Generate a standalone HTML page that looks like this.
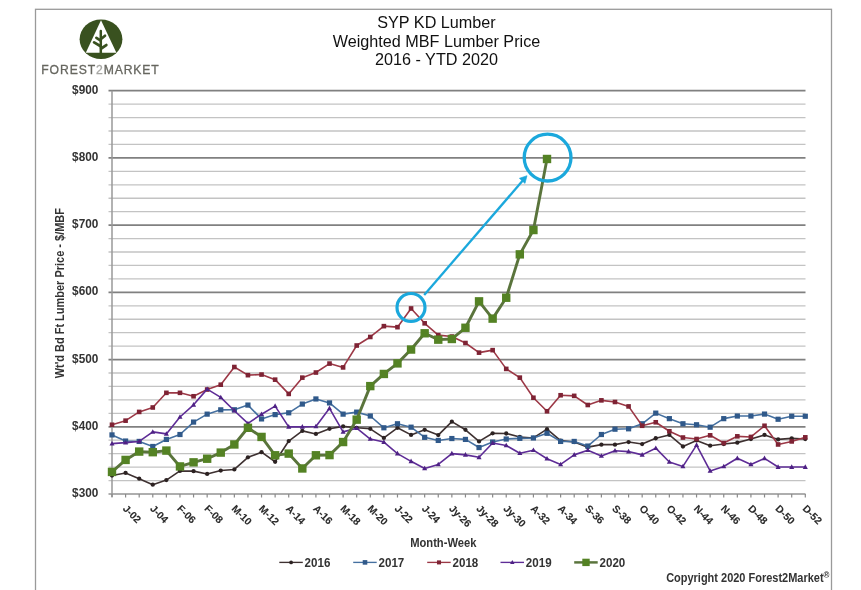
<!DOCTYPE html><html><head><meta charset="utf-8"><style>html,body{margin:0;padding:0;width:861px;height:590px;overflow:hidden;background:#fff;position:relative}svg{will-change:transform;filter:blur(0.35px)}</style></head><body><svg width="861" height="590" viewBox="0 0 861 590" style="position:absolute;left:0;top:0;font-family:'Liberation Sans', sans-serif">
<rect x="35.5" y="9.3" width="796" height="600" fill="none" stroke="#9a9a9a" stroke-width="1.3"/>
<line x1="108.5" y1="494.00" x2="805.5" y2="494.00" stroke="#939393" stroke-width="1.7"/>
<line x1="108.5" y1="480.56" x2="805.5" y2="480.56" stroke="#c3c3c3" stroke-width="1.3"/>
<line x1="108.5" y1="467.11" x2="805.5" y2="467.11" stroke="#c3c3c3" stroke-width="1.3"/>
<line x1="108.5" y1="453.67" x2="805.5" y2="453.67" stroke="#c3c3c3" stroke-width="1.3"/>
<line x1="108.5" y1="440.22" x2="805.5" y2="440.22" stroke="#c3c3c3" stroke-width="1.3"/>
<line x1="108.5" y1="426.78" x2="805.5" y2="426.78" stroke="#808080" stroke-width="1.8"/>
<line x1="108.5" y1="413.34" x2="805.5" y2="413.34" stroke="#c3c3c3" stroke-width="1.3"/>
<line x1="108.5" y1="399.89" x2="805.5" y2="399.89" stroke="#c3c3c3" stroke-width="1.3"/>
<line x1="108.5" y1="386.45" x2="805.5" y2="386.45" stroke="#c3c3c3" stroke-width="1.3"/>
<line x1="108.5" y1="373.00" x2="805.5" y2="373.00" stroke="#c3c3c3" stroke-width="1.3"/>
<line x1="108.5" y1="359.56" x2="805.5" y2="359.56" stroke="#808080" stroke-width="1.8"/>
<line x1="108.5" y1="346.12" x2="805.5" y2="346.12" stroke="#c3c3c3" stroke-width="1.3"/>
<line x1="108.5" y1="332.67" x2="805.5" y2="332.67" stroke="#c3c3c3" stroke-width="1.3"/>
<line x1="108.5" y1="319.23" x2="805.5" y2="319.23" stroke="#c3c3c3" stroke-width="1.3"/>
<line x1="108.5" y1="305.78" x2="805.5" y2="305.78" stroke="#c3c3c3" stroke-width="1.3"/>
<line x1="108.5" y1="292.34" x2="805.5" y2="292.34" stroke="#808080" stroke-width="1.8"/>
<line x1="108.5" y1="278.90" x2="805.5" y2="278.90" stroke="#c3c3c3" stroke-width="1.3"/>
<line x1="108.5" y1="265.45" x2="805.5" y2="265.45" stroke="#c3c3c3" stroke-width="1.3"/>
<line x1="108.5" y1="252.01" x2="805.5" y2="252.01" stroke="#c3c3c3" stroke-width="1.3"/>
<line x1="108.5" y1="238.56" x2="805.5" y2="238.56" stroke="#c3c3c3" stroke-width="1.3"/>
<line x1="108.5" y1="225.12" x2="805.5" y2="225.12" stroke="#808080" stroke-width="1.8"/>
<line x1="108.5" y1="211.68" x2="805.5" y2="211.68" stroke="#c3c3c3" stroke-width="1.3"/>
<line x1="108.5" y1="198.23" x2="805.5" y2="198.23" stroke="#c3c3c3" stroke-width="1.3"/>
<line x1="108.5" y1="184.79" x2="805.5" y2="184.79" stroke="#c3c3c3" stroke-width="1.3"/>
<line x1="108.5" y1="171.34" x2="805.5" y2="171.34" stroke="#c3c3c3" stroke-width="1.3"/>
<line x1="108.5" y1="157.90" x2="805.5" y2="157.90" stroke="#808080" stroke-width="1.8"/>
<line x1="108.5" y1="144.46" x2="805.5" y2="144.46" stroke="#c3c3c3" stroke-width="1.3"/>
<line x1="108.5" y1="131.01" x2="805.5" y2="131.01" stroke="#c3c3c3" stroke-width="1.3"/>
<line x1="108.5" y1="117.57" x2="805.5" y2="117.57" stroke="#c3c3c3" stroke-width="1.3"/>
<line x1="108.5" y1="104.12" x2="805.5" y2="104.12" stroke="#c3c3c3" stroke-width="1.3"/>
<line x1="108.5" y1="90.68" x2="805.5" y2="90.68" stroke="#808080" stroke-width="1.8"/>
<line x1="112.0" y1="90.68" x2="112.0" y2="497.0" stroke="#999" stroke-width="1.5"/>
<line x1="112.00" y1="494.0" x2="112.00" y2="497.5" stroke="#8a8a8a" stroke-width="1.2"/>
<line x1="125.59" y1="494.0" x2="125.59" y2="497.5" stroke="#8a8a8a" stroke-width="1.2"/>
<line x1="139.19" y1="494.0" x2="139.19" y2="497.5" stroke="#8a8a8a" stroke-width="1.2"/>
<line x1="152.78" y1="494.0" x2="152.78" y2="497.5" stroke="#8a8a8a" stroke-width="1.2"/>
<line x1="166.38" y1="494.0" x2="166.38" y2="497.5" stroke="#8a8a8a" stroke-width="1.2"/>
<line x1="179.97" y1="494.0" x2="179.97" y2="497.5" stroke="#8a8a8a" stroke-width="1.2"/>
<line x1="193.56" y1="494.0" x2="193.56" y2="497.5" stroke="#8a8a8a" stroke-width="1.2"/>
<line x1="207.16" y1="494.0" x2="207.16" y2="497.5" stroke="#8a8a8a" stroke-width="1.2"/>
<line x1="220.75" y1="494.0" x2="220.75" y2="497.5" stroke="#8a8a8a" stroke-width="1.2"/>
<line x1="234.35" y1="494.0" x2="234.35" y2="497.5" stroke="#8a8a8a" stroke-width="1.2"/>
<line x1="247.94" y1="494.0" x2="247.94" y2="497.5" stroke="#8a8a8a" stroke-width="1.2"/>
<line x1="261.54" y1="494.0" x2="261.54" y2="497.5" stroke="#8a8a8a" stroke-width="1.2"/>
<line x1="275.13" y1="494.0" x2="275.13" y2="497.5" stroke="#8a8a8a" stroke-width="1.2"/>
<line x1="288.72" y1="494.0" x2="288.72" y2="497.5" stroke="#8a8a8a" stroke-width="1.2"/>
<line x1="302.32" y1="494.0" x2="302.32" y2="497.5" stroke="#8a8a8a" stroke-width="1.2"/>
<line x1="315.91" y1="494.0" x2="315.91" y2="497.5" stroke="#8a8a8a" stroke-width="1.2"/>
<line x1="329.51" y1="494.0" x2="329.51" y2="497.5" stroke="#8a8a8a" stroke-width="1.2"/>
<line x1="343.10" y1="494.0" x2="343.10" y2="497.5" stroke="#8a8a8a" stroke-width="1.2"/>
<line x1="356.69" y1="494.0" x2="356.69" y2="497.5" stroke="#8a8a8a" stroke-width="1.2"/>
<line x1="370.29" y1="494.0" x2="370.29" y2="497.5" stroke="#8a8a8a" stroke-width="1.2"/>
<line x1="383.88" y1="494.0" x2="383.88" y2="497.5" stroke="#8a8a8a" stroke-width="1.2"/>
<line x1="397.48" y1="494.0" x2="397.48" y2="497.5" stroke="#8a8a8a" stroke-width="1.2"/>
<line x1="411.07" y1="494.0" x2="411.07" y2="497.5" stroke="#8a8a8a" stroke-width="1.2"/>
<line x1="424.66" y1="494.0" x2="424.66" y2="497.5" stroke="#8a8a8a" stroke-width="1.2"/>
<line x1="438.26" y1="494.0" x2="438.26" y2="497.5" stroke="#8a8a8a" stroke-width="1.2"/>
<line x1="451.85" y1="494.0" x2="451.85" y2="497.5" stroke="#8a8a8a" stroke-width="1.2"/>
<line x1="465.45" y1="494.0" x2="465.45" y2="497.5" stroke="#8a8a8a" stroke-width="1.2"/>
<line x1="479.04" y1="494.0" x2="479.04" y2="497.5" stroke="#8a8a8a" stroke-width="1.2"/>
<line x1="492.64" y1="494.0" x2="492.64" y2="497.5" stroke="#8a8a8a" stroke-width="1.2"/>
<line x1="506.23" y1="494.0" x2="506.23" y2="497.5" stroke="#8a8a8a" stroke-width="1.2"/>
<line x1="519.82" y1="494.0" x2="519.82" y2="497.5" stroke="#8a8a8a" stroke-width="1.2"/>
<line x1="533.42" y1="494.0" x2="533.42" y2="497.5" stroke="#8a8a8a" stroke-width="1.2"/>
<line x1="547.01" y1="494.0" x2="547.01" y2="497.5" stroke="#8a8a8a" stroke-width="1.2"/>
<line x1="560.61" y1="494.0" x2="560.61" y2="497.5" stroke="#8a8a8a" stroke-width="1.2"/>
<line x1="574.20" y1="494.0" x2="574.20" y2="497.5" stroke="#8a8a8a" stroke-width="1.2"/>
<line x1="587.79" y1="494.0" x2="587.79" y2="497.5" stroke="#8a8a8a" stroke-width="1.2"/>
<line x1="601.39" y1="494.0" x2="601.39" y2="497.5" stroke="#8a8a8a" stroke-width="1.2"/>
<line x1="614.98" y1="494.0" x2="614.98" y2="497.5" stroke="#8a8a8a" stroke-width="1.2"/>
<line x1="628.58" y1="494.0" x2="628.58" y2="497.5" stroke="#8a8a8a" stroke-width="1.2"/>
<line x1="642.17" y1="494.0" x2="642.17" y2="497.5" stroke="#8a8a8a" stroke-width="1.2"/>
<line x1="655.76" y1="494.0" x2="655.76" y2="497.5" stroke="#8a8a8a" stroke-width="1.2"/>
<line x1="669.36" y1="494.0" x2="669.36" y2="497.5" stroke="#8a8a8a" stroke-width="1.2"/>
<line x1="682.95" y1="494.0" x2="682.95" y2="497.5" stroke="#8a8a8a" stroke-width="1.2"/>
<line x1="696.55" y1="494.0" x2="696.55" y2="497.5" stroke="#8a8a8a" stroke-width="1.2"/>
<line x1="710.14" y1="494.0" x2="710.14" y2="497.5" stroke="#8a8a8a" stroke-width="1.2"/>
<line x1="723.74" y1="494.0" x2="723.74" y2="497.5" stroke="#8a8a8a" stroke-width="1.2"/>
<line x1="737.33" y1="494.0" x2="737.33" y2="497.5" stroke="#8a8a8a" stroke-width="1.2"/>
<line x1="750.92" y1="494.0" x2="750.92" y2="497.5" stroke="#8a8a8a" stroke-width="1.2"/>
<line x1="764.52" y1="494.0" x2="764.52" y2="497.5" stroke="#8a8a8a" stroke-width="1.2"/>
<line x1="778.11" y1="494.0" x2="778.11" y2="497.5" stroke="#8a8a8a" stroke-width="1.2"/>
<line x1="791.71" y1="494.0" x2="791.71" y2="497.5" stroke="#8a8a8a" stroke-width="1.2"/>
<line x1="805.30" y1="494.0" x2="805.30" y2="497.5" stroke="#8a8a8a" stroke-width="1.2"/>
<text transform="translate(98.3,497.10) scale(1,1.08)" font-size="11.8" font-weight="bold" fill="#333" text-anchor="end">$300</text>
<text transform="translate(98.3,429.88) scale(1,1.08)" font-size="11.8" font-weight="bold" fill="#333" text-anchor="end">$400</text>
<text transform="translate(98.3,362.66) scale(1,1.08)" font-size="11.8" font-weight="bold" fill="#333" text-anchor="end">$500</text>
<text transform="translate(98.3,295.44) scale(1,1.08)" font-size="11.8" font-weight="bold" fill="#333" text-anchor="end">$600</text>
<text transform="translate(98.3,228.22) scale(1,1.08)" font-size="11.8" font-weight="bold" fill="#333" text-anchor="end">$700</text>
<text transform="translate(98.3,161.00) scale(1,1.08)" font-size="11.8" font-weight="bold" fill="#333" text-anchor="end">$800</text>
<text transform="translate(98.3,93.78) scale(1,1.08)" font-size="11.8" font-weight="bold" fill="#333" text-anchor="end">$900</text>
<text transform="translate(122.19,509.20) rotate(45)" font-size="10.3" font-weight="bold" fill="#2a2a2a" stroke="#2a2a2a" stroke-width="0.1">J-02</text>
<text transform="translate(149.38,509.20) rotate(45)" font-size="10.3" font-weight="bold" fill="#2a2a2a" stroke="#2a2a2a" stroke-width="0.1">J-04</text>
<text transform="translate(176.57,509.20) rotate(45)" font-size="10.3" font-weight="bold" fill="#2a2a2a" stroke="#2a2a2a" stroke-width="0.1">F-06</text>
<text transform="translate(203.76,509.20) rotate(45)" font-size="10.3" font-weight="bold" fill="#2a2a2a" stroke="#2a2a2a" stroke-width="0.1">F-08</text>
<text transform="translate(230.95,509.20) rotate(45)" font-size="10.3" font-weight="bold" fill="#2a2a2a" stroke="#2a2a2a" stroke-width="0.1">M-10</text>
<text transform="translate(258.14,509.20) rotate(45)" font-size="10.3" font-weight="bold" fill="#2a2a2a" stroke="#2a2a2a" stroke-width="0.1">M-12</text>
<text transform="translate(285.32,509.20) rotate(45)" font-size="10.3" font-weight="bold" fill="#2a2a2a" stroke="#2a2a2a" stroke-width="0.1">A-14</text>
<text transform="translate(312.51,509.20) rotate(45)" font-size="10.3" font-weight="bold" fill="#2a2a2a" stroke="#2a2a2a" stroke-width="0.1">A-16</text>
<text transform="translate(339.70,509.20) rotate(45)" font-size="10.3" font-weight="bold" fill="#2a2a2a" stroke="#2a2a2a" stroke-width="0.1">M-18</text>
<text transform="translate(366.89,509.20) rotate(45)" font-size="10.3" font-weight="bold" fill="#2a2a2a" stroke="#2a2a2a" stroke-width="0.1">M-20</text>
<text transform="translate(394.08,509.20) rotate(45)" font-size="10.3" font-weight="bold" fill="#2a2a2a" stroke="#2a2a2a" stroke-width="0.1">J-22</text>
<text transform="translate(421.26,509.20) rotate(45)" font-size="10.3" font-weight="bold" fill="#2a2a2a" stroke="#2a2a2a" stroke-width="0.1">J-24</text>
<text transform="translate(448.45,509.20) rotate(45)" font-size="10.3" font-weight="bold" fill="#2a2a2a" stroke="#2a2a2a" stroke-width="0.1">Jy-26</text>
<text transform="translate(475.64,509.20) rotate(45)" font-size="10.3" font-weight="bold" fill="#2a2a2a" stroke="#2a2a2a" stroke-width="0.1">Jy-28</text>
<text transform="translate(502.83,509.20) rotate(45)" font-size="10.3" font-weight="bold" fill="#2a2a2a" stroke="#2a2a2a" stroke-width="0.1">Jy-30</text>
<text transform="translate(530.02,509.20) rotate(45)" font-size="10.3" font-weight="bold" fill="#2a2a2a" stroke="#2a2a2a" stroke-width="0.1">A-32</text>
<text transform="translate(557.21,509.20) rotate(45)" font-size="10.3" font-weight="bold" fill="#2a2a2a" stroke="#2a2a2a" stroke-width="0.1">A-34</text>
<text transform="translate(584.39,509.20) rotate(45)" font-size="10.3" font-weight="bold" fill="#2a2a2a" stroke="#2a2a2a" stroke-width="0.1">S-36</text>
<text transform="translate(611.58,509.20) rotate(45)" font-size="10.3" font-weight="bold" fill="#2a2a2a" stroke="#2a2a2a" stroke-width="0.1">S-38</text>
<text transform="translate(638.77,509.20) rotate(45)" font-size="10.3" font-weight="bold" fill="#2a2a2a" stroke="#2a2a2a" stroke-width="0.1">O-40</text>
<text transform="translate(665.96,509.20) rotate(45)" font-size="10.3" font-weight="bold" fill="#2a2a2a" stroke="#2a2a2a" stroke-width="0.1">O-42</text>
<text transform="translate(693.15,509.20) rotate(45)" font-size="10.3" font-weight="bold" fill="#2a2a2a" stroke="#2a2a2a" stroke-width="0.1">N-44</text>
<text transform="translate(720.34,509.20) rotate(45)" font-size="10.3" font-weight="bold" fill="#2a2a2a" stroke="#2a2a2a" stroke-width="0.1">N-46</text>
<text transform="translate(747.52,509.20) rotate(45)" font-size="10.3" font-weight="bold" fill="#2a2a2a" stroke="#2a2a2a" stroke-width="0.1">D-48</text>
<text transform="translate(774.71,509.20) rotate(45)" font-size="10.3" font-weight="bold" fill="#2a2a2a" stroke="#2a2a2a" stroke-width="0.1">D-50</text>
<text transform="translate(801.90,509.20) rotate(45)" font-size="10.3" font-weight="bold" fill="#2a2a2a" stroke="#2a2a2a" stroke-width="0.1">D-52</text>
<text transform="translate(436.5,27.9) scale(1,1.05)" font-size="16.2" fill="#111" text-anchor="middle">SYP KD Lumber</text>
<text transform="translate(436.5,46.8) scale(1,1.05)" font-size="16.2" fill="#111" text-anchor="middle">Weighted MBF Lumber Price</text>
<text transform="translate(436.5,65.1) scale(1,1.05)" font-size="16.2" fill="#111" text-anchor="middle">2016 - YTD 2020</text>
<text transform="translate(64.2,293.2) rotate(-90) scale(1,1.12)" font-size="11" font-weight="bold" fill="#333" text-anchor="middle">Wt'd Bd Ft Lumber Price - $/MBF</text>
<text transform="translate(443.3,547.2) scale(1,1.18)" font-size="11.2" font-weight="bold" fill="#333" text-anchor="middle">Month-Week</text>
<text transform="translate(829.5,582.3) scale(1,1.13)" font-size="11" font-weight="bold" fill="#333" text-anchor="end">Copyright 2020 Forest2Market<tspan font-size="8" dy="-3.6">®</tspan></text>
<polyline points="112.00,475.58 125.59,472.96 139.19,478.67 152.78,484.72 166.38,480.09 179.97,470.94 193.56,471.15 207.16,473.97 220.75,470.54 234.35,469.46 247.94,457.30 261.54,452.19 275.13,461.73 288.72,441.03 302.32,430.88 315.91,433.91 329.51,428.80 343.10,426.38 356.69,427.79 370.29,428.80 383.88,437.94 397.48,427.79 411.07,434.91 424.66,429.80 438.26,435.12 451.85,421.67 465.45,429.80 479.04,441.43 492.64,433.30 506.23,433.50 519.82,436.93 533.42,437.94 547.01,429.20 560.61,440.63 574.20,442.04 587.79,447.15 601.39,444.66 614.98,444.66 628.58,442.04 642.17,444.06 655.76,438.27 669.36,434.91 682.95,446.48 696.55,440.43 710.14,445.67 723.74,444.06 737.33,442.64 750.92,439.01 764.52,434.91 778.11,439.42 791.71,438.34 805.30,439.01" fill="none" stroke="#3e3131" stroke-width="1.6" stroke-linejoin="round"/>
<circle cx="112.00" cy="475.58" r="2.15" fill="#2c2222"/>
<circle cx="125.59" cy="472.96" r="2.15" fill="#2c2222"/>
<circle cx="139.19" cy="478.67" r="2.15" fill="#2c2222"/>
<circle cx="152.78" cy="484.72" r="2.15" fill="#2c2222"/>
<circle cx="166.38" cy="480.09" r="2.15" fill="#2c2222"/>
<circle cx="179.97" cy="470.94" r="2.15" fill="#2c2222"/>
<circle cx="193.56" cy="471.15" r="2.15" fill="#2c2222"/>
<circle cx="207.16" cy="473.97" r="2.15" fill="#2c2222"/>
<circle cx="220.75" cy="470.54" r="2.15" fill="#2c2222"/>
<circle cx="234.35" cy="469.46" r="2.15" fill="#2c2222"/>
<circle cx="247.94" cy="457.30" r="2.15" fill="#2c2222"/>
<circle cx="261.54" cy="452.19" r="2.15" fill="#2c2222"/>
<circle cx="275.13" cy="461.73" r="2.15" fill="#2c2222"/>
<circle cx="288.72" cy="441.03" r="2.15" fill="#2c2222"/>
<circle cx="302.32" cy="430.88" r="2.15" fill="#2c2222"/>
<circle cx="315.91" cy="433.91" r="2.15" fill="#2c2222"/>
<circle cx="329.51" cy="428.80" r="2.15" fill="#2c2222"/>
<circle cx="343.10" cy="426.38" r="2.15" fill="#2c2222"/>
<circle cx="356.69" cy="427.79" r="2.15" fill="#2c2222"/>
<circle cx="370.29" cy="428.80" r="2.15" fill="#2c2222"/>
<circle cx="383.88" cy="437.94" r="2.15" fill="#2c2222"/>
<circle cx="397.48" cy="427.79" r="2.15" fill="#2c2222"/>
<circle cx="411.07" cy="434.91" r="2.15" fill="#2c2222"/>
<circle cx="424.66" cy="429.80" r="2.15" fill="#2c2222"/>
<circle cx="438.26" cy="435.12" r="2.15" fill="#2c2222"/>
<circle cx="451.85" cy="421.67" r="2.15" fill="#2c2222"/>
<circle cx="465.45" cy="429.80" r="2.15" fill="#2c2222"/>
<circle cx="479.04" cy="441.43" r="2.15" fill="#2c2222"/>
<circle cx="492.64" cy="433.30" r="2.15" fill="#2c2222"/>
<circle cx="506.23" cy="433.50" r="2.15" fill="#2c2222"/>
<circle cx="519.82" cy="436.93" r="2.15" fill="#2c2222"/>
<circle cx="533.42" cy="437.94" r="2.15" fill="#2c2222"/>
<circle cx="547.01" cy="429.20" r="2.15" fill="#2c2222"/>
<circle cx="560.61" cy="440.63" r="2.15" fill="#2c2222"/>
<circle cx="574.20" cy="442.04" r="2.15" fill="#2c2222"/>
<circle cx="587.79" cy="447.15" r="2.15" fill="#2c2222"/>
<circle cx="601.39" cy="444.66" r="2.15" fill="#2c2222"/>
<circle cx="614.98" cy="444.66" r="2.15" fill="#2c2222"/>
<circle cx="628.58" cy="442.04" r="2.15" fill="#2c2222"/>
<circle cx="642.17" cy="444.06" r="2.15" fill="#2c2222"/>
<circle cx="655.76" cy="438.27" r="2.15" fill="#2c2222"/>
<circle cx="669.36" cy="434.91" r="2.15" fill="#2c2222"/>
<circle cx="682.95" cy="446.48" r="2.15" fill="#2c2222"/>
<circle cx="696.55" cy="440.43" r="2.15" fill="#2c2222"/>
<circle cx="710.14" cy="445.67" r="2.15" fill="#2c2222"/>
<circle cx="723.74" cy="444.06" r="2.15" fill="#2c2222"/>
<circle cx="737.33" cy="442.64" r="2.15" fill="#2c2222"/>
<circle cx="750.92" cy="439.01" r="2.15" fill="#2c2222"/>
<circle cx="764.52" cy="434.91" r="2.15" fill="#2c2222"/>
<circle cx="778.11" cy="439.42" r="2.15" fill="#2c2222"/>
<circle cx="791.71" cy="438.34" r="2.15" fill="#2c2222"/>
<circle cx="805.30" cy="439.01" r="2.15" fill="#2c2222"/>
<polyline points="112.00,434.91 125.59,441.03 139.19,441.43 152.78,446.48 166.38,439.42 179.97,434.51 193.56,422.07 207.16,414.14 220.75,409.84 234.35,409.77 247.94,405.07 261.54,418.92 275.13,414.61 288.72,412.80 302.32,404.06 315.91,398.95 329.51,402.92 343.10,414.14 356.69,412.13 370.29,416.02 383.88,427.79 397.48,423.76 411.07,427.18 424.66,437.33 438.26,440.43 451.85,438.54 465.45,439.42 479.04,447.55 492.64,442.04 506.23,439.01 519.82,438.34 533.42,437.94 547.01,433.30 560.61,441.43 574.20,441.43 587.79,446.07 601.39,434.51 614.98,429.20 628.58,428.80 642.17,423.76 655.76,413.13 669.36,418.65 682.95,423.76 696.55,424.76 710.14,427.18 723.74,418.65 737.33,416.02 750.92,416.02 764.52,414.08 778.11,419.25 791.71,416.23 805.30,416.23" fill="none" stroke="#4570a0" stroke-width="1.6" stroke-linejoin="round"/>
<rect x="109.40" y="432.31" width="5.2" height="5.2" fill="#30598a"/>
<rect x="122.99" y="438.43" width="5.2" height="5.2" fill="#30598a"/>
<rect x="136.59" y="438.83" width="5.2" height="5.2" fill="#30598a"/>
<rect x="150.18" y="443.88" width="5.2" height="5.2" fill="#30598a"/>
<rect x="163.78" y="436.82" width="5.2" height="5.2" fill="#30598a"/>
<rect x="177.37" y="431.91" width="5.2" height="5.2" fill="#30598a"/>
<rect x="190.96" y="419.47" width="5.2" height="5.2" fill="#30598a"/>
<rect x="204.56" y="411.54" width="5.2" height="5.2" fill="#30598a"/>
<rect x="218.15" y="407.24" width="5.2" height="5.2" fill="#30598a"/>
<rect x="231.75" y="407.17" width="5.2" height="5.2" fill="#30598a"/>
<rect x="245.34" y="402.47" width="5.2" height="5.2" fill="#30598a"/>
<rect x="258.94" y="416.32" width="5.2" height="5.2" fill="#30598a"/>
<rect x="272.53" y="412.01" width="5.2" height="5.2" fill="#30598a"/>
<rect x="286.12" y="410.20" width="5.2" height="5.2" fill="#30598a"/>
<rect x="299.72" y="401.46" width="5.2" height="5.2" fill="#30598a"/>
<rect x="313.31" y="396.35" width="5.2" height="5.2" fill="#30598a"/>
<rect x="326.91" y="400.32" width="5.2" height="5.2" fill="#30598a"/>
<rect x="340.50" y="411.54" width="5.2" height="5.2" fill="#30598a"/>
<rect x="354.09" y="409.53" width="5.2" height="5.2" fill="#30598a"/>
<rect x="367.69" y="413.42" width="5.2" height="5.2" fill="#30598a"/>
<rect x="381.28" y="425.19" width="5.2" height="5.2" fill="#30598a"/>
<rect x="394.88" y="421.16" width="5.2" height="5.2" fill="#30598a"/>
<rect x="408.47" y="424.58" width="5.2" height="5.2" fill="#30598a"/>
<rect x="422.06" y="434.73" width="5.2" height="5.2" fill="#30598a"/>
<rect x="435.66" y="437.83" width="5.2" height="5.2" fill="#30598a"/>
<rect x="449.25" y="435.94" width="5.2" height="5.2" fill="#30598a"/>
<rect x="462.85" y="436.82" width="5.2" height="5.2" fill="#30598a"/>
<rect x="476.44" y="444.95" width="5.2" height="5.2" fill="#30598a"/>
<rect x="490.04" y="439.44" width="5.2" height="5.2" fill="#30598a"/>
<rect x="503.63" y="436.41" width="5.2" height="5.2" fill="#30598a"/>
<rect x="517.22" y="435.74" width="5.2" height="5.2" fill="#30598a"/>
<rect x="530.82" y="435.34" width="5.2" height="5.2" fill="#30598a"/>
<rect x="544.41" y="430.70" width="5.2" height="5.2" fill="#30598a"/>
<rect x="558.01" y="438.83" width="5.2" height="5.2" fill="#30598a"/>
<rect x="571.60" y="438.83" width="5.2" height="5.2" fill="#30598a"/>
<rect x="585.19" y="443.47" width="5.2" height="5.2" fill="#30598a"/>
<rect x="598.79" y="431.91" width="5.2" height="5.2" fill="#30598a"/>
<rect x="612.38" y="426.60" width="5.2" height="5.2" fill="#30598a"/>
<rect x="625.98" y="426.20" width="5.2" height="5.2" fill="#30598a"/>
<rect x="639.57" y="421.16" width="5.2" height="5.2" fill="#30598a"/>
<rect x="653.16" y="410.53" width="5.2" height="5.2" fill="#30598a"/>
<rect x="666.76" y="416.05" width="5.2" height="5.2" fill="#30598a"/>
<rect x="680.35" y="421.16" width="5.2" height="5.2" fill="#30598a"/>
<rect x="693.95" y="422.16" width="5.2" height="5.2" fill="#30598a"/>
<rect x="707.54" y="424.58" width="5.2" height="5.2" fill="#30598a"/>
<rect x="721.14" y="416.05" width="5.2" height="5.2" fill="#30598a"/>
<rect x="734.73" y="413.42" width="5.2" height="5.2" fill="#30598a"/>
<rect x="748.32" y="413.42" width="5.2" height="5.2" fill="#30598a"/>
<rect x="761.92" y="411.48" width="5.2" height="5.2" fill="#30598a"/>
<rect x="775.51" y="416.65" width="5.2" height="5.2" fill="#30598a"/>
<rect x="789.11" y="413.63" width="5.2" height="5.2" fill="#30598a"/>
<rect x="802.70" y="413.63" width="5.2" height="5.2" fill="#30598a"/>
<polyline points="112.00,424.76 125.59,420.66 139.19,411.92 152.78,407.49 166.38,392.83 179.97,392.83 193.56,396.26 207.16,389.54 220.75,384.70 234.35,367.02 247.94,375.16 261.54,374.55 275.13,379.66 288.72,393.91 302.32,377.64 315.91,372.53 329.51,363.59 343.10,367.42 356.69,345.51 370.29,336.97 383.88,326.15 397.48,327.16 411.07,308.47 424.66,323.33 438.26,335.09 451.85,336.57 465.45,343.02 479.04,352.64 492.64,350.15 506.23,368.90 519.82,377.64 533.42,397.74 547.01,411.25 560.61,395.25 574.20,395.86 587.79,405.00 601.39,400.36 614.98,401.98 628.58,406.41 642.17,425.77 655.76,422.28 669.36,431.28 682.95,437.54 696.55,439.01 710.14,435.32 723.74,443.05 737.33,436.33 750.92,436.93 764.52,425.77 778.11,444.46 791.71,441.43 805.30,437.33" fill="none" stroke="#9c3846" stroke-width="1.6" stroke-linejoin="round"/>
<rect x="109.70" y="422.46" width="4.6" height="4.6" fill="#7e2334"/>
<rect x="123.29" y="418.36" width="4.6" height="4.6" fill="#7e2334"/>
<rect x="136.89" y="409.62" width="4.6" height="4.6" fill="#7e2334"/>
<rect x="150.48" y="405.19" width="4.6" height="4.6" fill="#7e2334"/>
<rect x="164.08" y="390.53" width="4.6" height="4.6" fill="#7e2334"/>
<rect x="177.67" y="390.53" width="4.6" height="4.6" fill="#7e2334"/>
<rect x="191.26" y="393.96" width="4.6" height="4.6" fill="#7e2334"/>
<rect x="204.86" y="387.24" width="4.6" height="4.6" fill="#7e2334"/>
<rect x="218.45" y="382.40" width="4.6" height="4.6" fill="#7e2334"/>
<rect x="232.05" y="364.72" width="4.6" height="4.6" fill="#7e2334"/>
<rect x="245.64" y="372.86" width="4.6" height="4.6" fill="#7e2334"/>
<rect x="259.24" y="372.25" width="4.6" height="4.6" fill="#7e2334"/>
<rect x="272.83" y="377.36" width="4.6" height="4.6" fill="#7e2334"/>
<rect x="286.42" y="391.61" width="4.6" height="4.6" fill="#7e2334"/>
<rect x="300.02" y="375.34" width="4.6" height="4.6" fill="#7e2334"/>
<rect x="313.61" y="370.23" width="4.6" height="4.6" fill="#7e2334"/>
<rect x="327.21" y="361.29" width="4.6" height="4.6" fill="#7e2334"/>
<rect x="340.80" y="365.12" width="4.6" height="4.6" fill="#7e2334"/>
<rect x="354.39" y="343.21" width="4.6" height="4.6" fill="#7e2334"/>
<rect x="367.99" y="334.67" width="4.6" height="4.6" fill="#7e2334"/>
<rect x="381.58" y="323.85" width="4.6" height="4.6" fill="#7e2334"/>
<rect x="395.18" y="324.86" width="4.6" height="4.6" fill="#7e2334"/>
<rect x="408.77" y="306.17" width="4.6" height="4.6" fill="#7e2334"/>
<rect x="422.36" y="321.03" width="4.6" height="4.6" fill="#7e2334"/>
<rect x="435.96" y="332.79" width="4.6" height="4.6" fill="#7e2334"/>
<rect x="449.55" y="334.27" width="4.6" height="4.6" fill="#7e2334"/>
<rect x="463.15" y="340.72" width="4.6" height="4.6" fill="#7e2334"/>
<rect x="476.74" y="350.34" width="4.6" height="4.6" fill="#7e2334"/>
<rect x="490.34" y="347.85" width="4.6" height="4.6" fill="#7e2334"/>
<rect x="503.93" y="366.60" width="4.6" height="4.6" fill="#7e2334"/>
<rect x="517.52" y="375.34" width="4.6" height="4.6" fill="#7e2334"/>
<rect x="531.12" y="395.44" width="4.6" height="4.6" fill="#7e2334"/>
<rect x="544.71" y="408.95" width="4.6" height="4.6" fill="#7e2334"/>
<rect x="558.31" y="392.95" width="4.6" height="4.6" fill="#7e2334"/>
<rect x="571.90" y="393.56" width="4.6" height="4.6" fill="#7e2334"/>
<rect x="585.49" y="402.70" width="4.6" height="4.6" fill="#7e2334"/>
<rect x="599.09" y="398.06" width="4.6" height="4.6" fill="#7e2334"/>
<rect x="612.68" y="399.68" width="4.6" height="4.6" fill="#7e2334"/>
<rect x="626.28" y="404.11" width="4.6" height="4.6" fill="#7e2334"/>
<rect x="639.87" y="423.47" width="4.6" height="4.6" fill="#7e2334"/>
<rect x="653.46" y="419.98" width="4.6" height="4.6" fill="#7e2334"/>
<rect x="667.06" y="428.98" width="4.6" height="4.6" fill="#7e2334"/>
<rect x="680.65" y="435.24" width="4.6" height="4.6" fill="#7e2334"/>
<rect x="694.25" y="436.71" width="4.6" height="4.6" fill="#7e2334"/>
<rect x="707.84" y="433.02" width="4.6" height="4.6" fill="#7e2334"/>
<rect x="721.44" y="440.75" width="4.6" height="4.6" fill="#7e2334"/>
<rect x="735.03" y="434.03" width="4.6" height="4.6" fill="#7e2334"/>
<rect x="748.62" y="434.63" width="4.6" height="4.6" fill="#7e2334"/>
<rect x="762.22" y="423.47" width="4.6" height="4.6" fill="#7e2334"/>
<rect x="775.81" y="442.16" width="4.6" height="4.6" fill="#7e2334"/>
<rect x="789.41" y="439.13" width="4.6" height="4.6" fill="#7e2334"/>
<rect x="803.00" y="435.03" width="4.6" height="4.6" fill="#7e2334"/>
<polyline points="112.00,443.65 125.59,442.64 139.19,441.43 152.78,431.89 166.38,433.91 179.97,417.03 193.56,404.80 207.16,389.14 220.75,397.40 234.35,410.78 247.94,423.42 261.54,414.21 275.13,406.08 288.72,426.85 302.32,426.85 315.91,426.44 329.51,408.29 343.10,431.89 356.69,428.19 370.29,439.01 383.88,442.04 397.48,453.60 411.07,461.33 424.66,468.46 438.26,464.42 451.85,453.60 465.45,454.88 479.04,457.30 492.64,443.05 506.23,445.47 519.82,453.20 533.42,450.17 547.01,458.71 560.61,464.42 574.20,454.88 587.79,450.17 601.39,455.89 614.98,450.78 628.58,451.58 642.17,454.88 655.76,448.16 669.36,461.94 682.95,466.44 696.55,445.06 710.14,470.94 723.74,466.44 737.33,458.31 750.92,464.42 764.52,458.31 778.11,467.04 791.71,467.04 805.30,467.04" fill="none" stroke="#5e2c96" stroke-width="1.6" stroke-linejoin="round"/>
<path d="M112.00,440.89 L114.53,445.49 L109.47,445.49Z" fill="#4e2184"/>
<path d="M125.59,439.88 L128.12,444.48 L123.06,444.48Z" fill="#4e2184"/>
<path d="M139.19,438.67 L141.72,443.27 L136.66,443.27Z" fill="#4e2184"/>
<path d="M152.78,429.13 L155.31,433.73 L150.25,433.73Z" fill="#4e2184"/>
<path d="M166.38,431.15 L168.91,435.75 L163.85,435.75Z" fill="#4e2184"/>
<path d="M179.97,414.27 L182.50,418.87 L177.44,418.87Z" fill="#4e2184"/>
<path d="M193.56,402.04 L196.09,406.64 L191.03,406.64Z" fill="#4e2184"/>
<path d="M207.16,386.38 L209.69,390.98 L204.63,390.98Z" fill="#4e2184"/>
<path d="M220.75,394.64 L223.28,399.24 L218.22,399.24Z" fill="#4e2184"/>
<path d="M234.35,408.02 L236.88,412.62 L231.82,412.62Z" fill="#4e2184"/>
<path d="M247.94,420.66 L250.47,425.26 L245.41,425.26Z" fill="#4e2184"/>
<path d="M261.54,411.45 L264.07,416.05 L259.01,416.05Z" fill="#4e2184"/>
<path d="M275.13,403.32 L277.66,407.92 L272.60,407.92Z" fill="#4e2184"/>
<path d="M288.72,424.09 L291.25,428.69 L286.19,428.69Z" fill="#4e2184"/>
<path d="M302.32,424.09 L304.85,428.69 L299.79,428.69Z" fill="#4e2184"/>
<path d="M315.91,423.68 L318.44,428.28 L313.38,428.28Z" fill="#4e2184"/>
<path d="M329.51,405.53 L332.04,410.13 L326.98,410.13Z" fill="#4e2184"/>
<path d="M343.10,429.13 L345.63,433.73 L340.57,433.73Z" fill="#4e2184"/>
<path d="M356.69,425.43 L359.22,430.03 L354.16,430.03Z" fill="#4e2184"/>
<path d="M370.29,436.25 L372.82,440.85 L367.76,440.85Z" fill="#4e2184"/>
<path d="M383.88,439.28 L386.41,443.88 L381.35,443.88Z" fill="#4e2184"/>
<path d="M397.48,450.84 L400.01,455.44 L394.95,455.44Z" fill="#4e2184"/>
<path d="M411.07,458.57 L413.60,463.17 L408.54,463.17Z" fill="#4e2184"/>
<path d="M424.66,465.70 L427.19,470.30 L422.13,470.30Z" fill="#4e2184"/>
<path d="M438.26,461.66 L440.79,466.26 L435.73,466.26Z" fill="#4e2184"/>
<path d="M451.85,450.84 L454.38,455.44 L449.32,455.44Z" fill="#4e2184"/>
<path d="M465.45,452.12 L467.98,456.72 L462.92,456.72Z" fill="#4e2184"/>
<path d="M479.04,454.54 L481.57,459.14 L476.51,459.14Z" fill="#4e2184"/>
<path d="M492.64,440.29 L495.17,444.89 L490.11,444.89Z" fill="#4e2184"/>
<path d="M506.23,442.71 L508.76,447.31 L503.70,447.31Z" fill="#4e2184"/>
<path d="M519.82,450.44 L522.35,455.04 L517.29,455.04Z" fill="#4e2184"/>
<path d="M533.42,447.41 L535.95,452.01 L530.89,452.01Z" fill="#4e2184"/>
<path d="M547.01,455.95 L549.54,460.55 L544.48,460.55Z" fill="#4e2184"/>
<path d="M560.61,461.66 L563.14,466.26 L558.08,466.26Z" fill="#4e2184"/>
<path d="M574.20,452.12 L576.73,456.72 L571.67,456.72Z" fill="#4e2184"/>
<path d="M587.79,447.41 L590.32,452.01 L585.26,452.01Z" fill="#4e2184"/>
<path d="M601.39,453.13 L603.92,457.73 L598.86,457.73Z" fill="#4e2184"/>
<path d="M614.98,448.02 L617.51,452.62 L612.45,452.62Z" fill="#4e2184"/>
<path d="M628.58,448.82 L631.11,453.42 L626.05,453.42Z" fill="#4e2184"/>
<path d="M642.17,452.12 L644.70,456.72 L639.64,456.72Z" fill="#4e2184"/>
<path d="M655.76,445.40 L658.29,450.00 L653.23,450.00Z" fill="#4e2184"/>
<path d="M669.36,459.18 L671.89,463.78 L666.83,463.78Z" fill="#4e2184"/>
<path d="M682.95,463.68 L685.48,468.28 L680.42,468.28Z" fill="#4e2184"/>
<path d="M696.55,442.30 L699.08,446.90 L694.02,446.90Z" fill="#4e2184"/>
<path d="M710.14,468.18 L712.67,472.78 L707.61,472.78Z" fill="#4e2184"/>
<path d="M723.74,463.68 L726.27,468.28 L721.21,468.28Z" fill="#4e2184"/>
<path d="M737.33,455.55 L739.86,460.15 L734.80,460.15Z" fill="#4e2184"/>
<path d="M750.92,461.66 L753.45,466.26 L748.39,466.26Z" fill="#4e2184"/>
<path d="M764.52,455.55 L767.05,460.15 L761.99,460.15Z" fill="#4e2184"/>
<path d="M778.11,464.28 L780.64,468.88 L775.58,468.88Z" fill="#4e2184"/>
<path d="M791.71,464.28 L794.24,468.88 L789.18,468.88Z" fill="#4e2184"/>
<path d="M805.30,464.28 L807.83,468.88 L802.77,468.88Z" fill="#4e2184"/>
<polyline points="112.00,471.95 125.59,459.92 139.19,451.58 152.78,452.19 166.38,450.58 179.97,466.44 193.56,462.34 207.16,458.71 220.75,452.59 234.35,444.46 247.94,427.79 261.54,436.93 275.13,455.28 288.72,453.60 302.32,468.46 315.91,455.28 329.51,455.08 343.10,442.04 356.69,419.65 370.29,386.11 383.88,373.95 397.48,363.39 411.07,349.54 424.66,333.28 438.26,339.66 451.85,338.99 465.45,327.76 479.04,301.35 492.64,318.62 506.23,297.72 519.82,254.36 533.42,230.03 547.01,158.98" fill="none" stroke="#5a743c" stroke-width="2.9" stroke-linejoin="round"/>
<rect x="107.80" y="467.75" width="8.4" height="8.4" fill="#548224"/>
<rect x="121.39" y="455.72" width="8.4" height="8.4" fill="#548224"/>
<rect x="134.99" y="447.38" width="8.4" height="8.4" fill="#548224"/>
<rect x="148.58" y="447.99" width="8.4" height="8.4" fill="#548224"/>
<rect x="162.18" y="446.38" width="8.4" height="8.4" fill="#548224"/>
<rect x="175.77" y="462.24" width="8.4" height="8.4" fill="#548224"/>
<rect x="189.36" y="458.14" width="8.4" height="8.4" fill="#548224"/>
<rect x="202.96" y="454.51" width="8.4" height="8.4" fill="#548224"/>
<rect x="216.55" y="448.39" width="8.4" height="8.4" fill="#548224"/>
<rect x="230.15" y="440.26" width="8.4" height="8.4" fill="#548224"/>
<rect x="243.74" y="423.59" width="8.4" height="8.4" fill="#548224"/>
<rect x="257.34" y="432.73" width="8.4" height="8.4" fill="#548224"/>
<rect x="270.93" y="451.08" width="8.4" height="8.4" fill="#548224"/>
<rect x="284.52" y="449.40" width="8.4" height="8.4" fill="#548224"/>
<rect x="298.12" y="464.26" width="8.4" height="8.4" fill="#548224"/>
<rect x="311.71" y="451.08" width="8.4" height="8.4" fill="#548224"/>
<rect x="325.31" y="450.88" width="8.4" height="8.4" fill="#548224"/>
<rect x="338.90" y="437.84" width="8.4" height="8.4" fill="#548224"/>
<rect x="352.49" y="415.45" width="8.4" height="8.4" fill="#548224"/>
<rect x="366.09" y="381.91" width="8.4" height="8.4" fill="#548224"/>
<rect x="379.68" y="369.75" width="8.4" height="8.4" fill="#548224"/>
<rect x="393.28" y="359.19" width="8.4" height="8.4" fill="#548224"/>
<rect x="406.87" y="345.34" width="8.4" height="8.4" fill="#548224"/>
<rect x="420.46" y="329.08" width="8.4" height="8.4" fill="#548224"/>
<rect x="434.06" y="335.46" width="8.4" height="8.4" fill="#548224"/>
<rect x="447.65" y="334.79" width="8.4" height="8.4" fill="#548224"/>
<rect x="461.25" y="323.56" width="8.4" height="8.4" fill="#548224"/>
<rect x="474.84" y="297.15" width="8.4" height="8.4" fill="#548224"/>
<rect x="488.44" y="314.42" width="8.4" height="8.4" fill="#548224"/>
<rect x="502.03" y="293.52" width="8.4" height="8.4" fill="#548224"/>
<rect x="515.62" y="250.16" width="8.4" height="8.4" fill="#548224"/>
<rect x="529.22" y="225.83" width="8.4" height="8.4" fill="#548224"/>
<rect x="542.81" y="154.78" width="8.4" height="8.4" fill="#548224"/>
<line x1="279.3" y1="562.4" x2="302.8" y2="562.4" stroke="#3e3131" stroke-width="1.36"/>
<circle cx="291.10" cy="562.40" r="1.892" fill="#2c2222"/>
<text transform="translate(304.6,566.6999999999999) scale(1,1.08)" font-size="11.6" font-weight="bold" fill="#333">2016</text>
<line x1="353.2" y1="562.4" x2="376.7" y2="562.4" stroke="#4570a0" stroke-width="1.36"/>
<rect x="362.71" y="560.11" width="4.5760000000000005" height="4.5760000000000005" fill="#30598a"/>
<text transform="translate(378.5,566.6999999999999) scale(1,1.08)" font-size="11.6" font-weight="bold" fill="#333">2017</text>
<line x1="427.2" y1="562.4" x2="450.7" y2="562.4" stroke="#9c3846" stroke-width="1.36"/>
<rect x="436.98" y="560.38" width="4.048" height="4.048" fill="#7e2334"/>
<text transform="translate(452.5,566.6999999999999) scale(1,1.08)" font-size="11.6" font-weight="bold" fill="#333">2018</text>
<line x1="500.5" y1="562.4" x2="524.0" y2="562.4" stroke="#5e2c96" stroke-width="1.36"/>
<path d="M512.30,559.97 L514.53,564.02 L510.07,564.02Z" fill="#4e2184"/>
<text transform="translate(525.8,566.6999999999999) scale(1,1.08)" font-size="11.6" font-weight="bold" fill="#333">2019</text>
<line x1="574.2" y1="562.4" x2="597.7" y2="562.4" stroke="#5a743c" stroke-width="2.46"/>
<rect x="582.30" y="558.70" width="7.392" height="7.392" fill="#548224"/>
<text transform="translate(599.5,566.6999999999999) scale(1,1.08)" font-size="11.6" font-weight="bold" fill="#333">2020</text>
<circle cx="411" cy="307.5" r="14" fill="none" stroke="#1ba8dc" stroke-width="3.2"/>
<circle cx="547.6" cy="157.6" r="23.4" fill="none" stroke="#1ba8dc" stroke-width="3.3"/>
<line x1="424.2" y1="295" x2="522.8" y2="180.5" stroke="#1ba8dc" stroke-width="2.3"/>
<path d="M527,175.7 L519.4,178.3 L525,183.4 Z" fill="#1ba8dc" stroke="#1ba8dc" stroke-width="0.6" stroke-linejoin="round"/>
<ellipse cx="101" cy="39.2" rx="21.4" ry="19.7" fill="#39511f"/>
<path d="M101,20.3 L116.4,52.7 L85.8,52.7 Z" fill="#fff"/>
<g stroke="#39511f" stroke-linecap="round" fill="none"><path d="M100.8,31 L100.8,52.7" stroke-width="2.5"/><path d="M105,35.8 L101,39" stroke-width="2.7"/><path d="M96.4,37.8 L100.7,40.6" stroke-width="2.7"/><path d="M94.1,42.4 L100.6,46.3" stroke-width="2.8"/><path d="M106.3,45.1 L101.2,48.5" stroke-width="2.8"/></g>
<text x="41.3" y="74.1" font-size="12.4" fill="#66665f" stroke="#66665f" stroke-width="0.3" letter-spacing="0.9" textLength="118.4" lengthAdjust="spacingAndGlyphs">FOREST<tspan fill="#a6a6a2" stroke="#a6a6a2">2</tspan>MARKET</text>
</svg></body></html>
